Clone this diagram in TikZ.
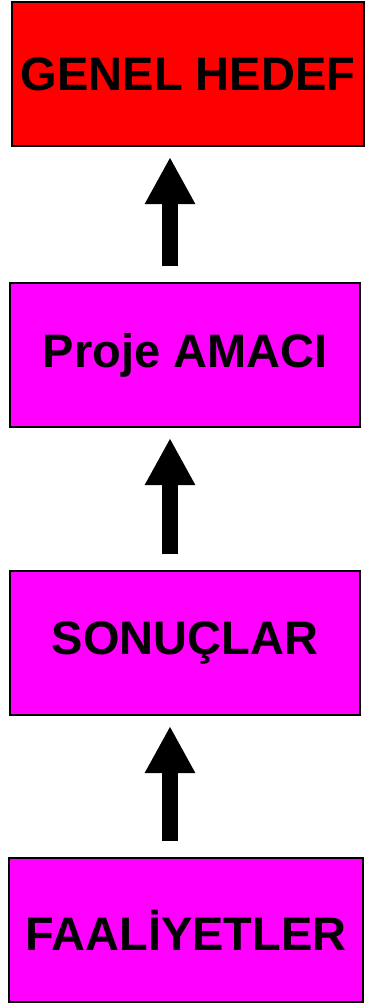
\documentclass[tikz,border=0pt]{standalone}
\usepackage{fontspec}
\setmainfont{Liberation Sans}
\usetikzlibrary{arrows.meta}
\definecolor{hedefkirmizi}{RGB}{255,0,0}
\definecolor{pembe}{RGB}{255,0,255}

\begin{document}
\begin{tikzpicture}[x=1pt,y=-1pt,
    kutu/.style={draw=black,line width=2pt,minimum width=350pt,minimum height=144pt,
      inner sep=0pt,font=\fontsize{47}{50}\selectfont\bfseries},
    yukari/.style={line width=16pt,-{Triangle[width=47pt,length=47pt]},
      shorten <=16pt,shorten >=10pt}]
    \useasboundingbox (0,0) rectangle (364,1003);
    \node [kutu,fill=hedefkirmizi,minimum width=352pt] (hedef) at (188,74) {GENEL HEDEF};
    \node [kutu,fill=pembe] (amac) at (185,355) {Proje AMACI};
    \node [kutu,fill=pembe] (sonuc) at (185,643) {SONUÇLAR};
    \node [kutu,fill=pembe,minimum width=354pt] (faaliyet) at (186,930) {FAALİYETLER};
    \coordinate (ok) at (170,0);
    \draw [yukari] (amac.north -| ok) -- (hedef.south -| ok);
    \draw [yukari] (sonuc.north -| ok) -- (amac.south -| ok);
    \draw [yukari] (faaliyet.north -| ok) -- (sonuc.south -| ok);
\end{tikzpicture}
\end{document}
